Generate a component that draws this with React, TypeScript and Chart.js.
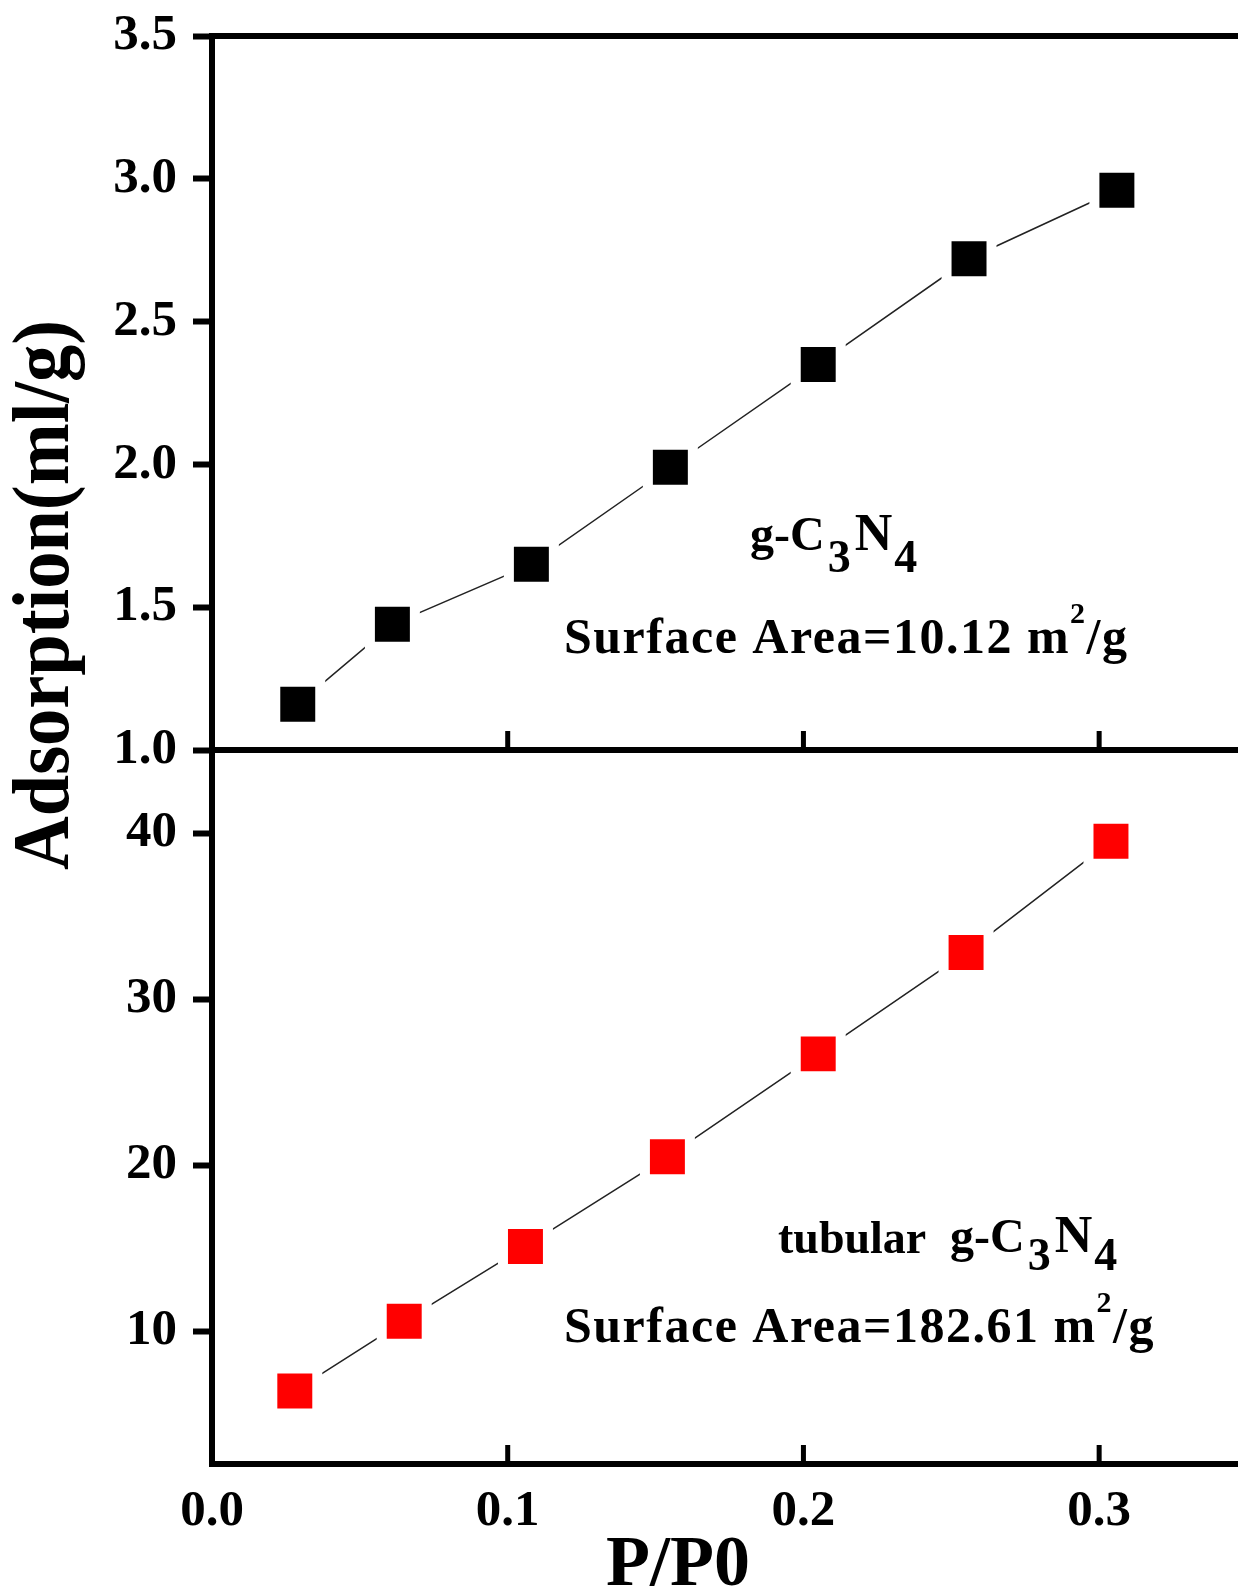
import React, { useEffect, useRef } from 'react';
import { Chart, registerables } from 'chart.js';

Chart.register(...registerables);

// ---- data ----
const pressureTop = [0.029, 0.061, 0.108, 0.155, 0.205, 0.256, 0.306];
const adsorptionTop = [1.16, 1.44, 1.65, 1.99, 2.35, 2.72, 2.96];
const pressureBottom = [0.028, 0.065, 0.106, 0.154, 0.205, 0.255, 0.304];
const adsorptionBottom = [6.4, 10.6, 15.1, 20.5, 26.7, 32.8, 39.5];
const xTickValues = [0.0, 0.1, 0.2, 0.3];
const yTicksTop = [1.0, 1.5, 2.0, 2.5, 3.0, 3.5];
const yTicksBottom = [10, 20, 30, 40];
const yTitle = 'Adsorption(ml/g)';
const xTitle = 'P/P0';
const topSampleName = ['g-C', '3', 'N', '4'];
const topArea = ['Surface Area=10.12 m', '2', '/g'];
const bottomPrefix = 'tubular';
const bottomSampleName = ['g-C', '3', 'N', '4'];
const bottomArea = ['Surface Area=182.61 m', '2', '/g'];

const FAMILY = '"Liberation Serif", "Times New Roman", serif';
const CANVAS_W = 1247;
const TOP_H = 900;
const BOTTOM_TOP = 700;
const BOTTOM_H = 891;

type Run = { t: string; s: number; dy?: number; gap?: number };

function drawRuns(ctx: CanvasRenderingContext2D, x: number, y: number, runs: Run[], spacing: number) {
  ctx.save();
  ctx.fillStyle = '#000';
  ctx.textAlign = 'left';
  ctx.textBaseline = 'alphabetic';
  (ctx as any).letterSpacing = spacing + 'px';
  let cx = x;
  for (const r of runs) {
    ctx.font = `bold ${r.s}px ${FAMILY}`;
    ctx.fillText(r.t, cx, y + (r.dy || 0));
    cx += ctx.measureText(r.t).width + (r.gap || 0);
  }
  ctx.restore();
}

function sampleRuns(names: string[], dy: number): Run[] {
  return [
    { t: names[0], s: 48, gap: 3 },
    { t: names[1], s: 46, dy, gap: 4 },
    { t: names[2], s: 52, gap: 2 },
    { t: names[3], s: 46, dy },
  ];
}

function inwardTicks(chart: any) {
  const ctx = chart.ctx;
  const { bottom } = chart.chartArea;
  const xs = chart.scales.x;
  ctx.save();
  ctx.fillStyle = '#000';
  for (const v of xTickValues) {
    if (v <= 0) continue;
    const px = xs.getPixelForValue(v);
    ctx.fillRect(px - 2.5, bottom - 19, 5, 19);
  }
  ctx.restore();
}

const tickFont = { family: FAMILY, size: 51, weight: 'bold' as const };

function yAxis(min: number, max: number, ticks: number[], fmt: (v: number) => string) {
  return {
    type: 'linear' as const,
    position: 'left' as const,
    min,
    max,
    afterBuildTicks: (scale: any) => {
      scale.ticks = ticks.map((v) => ({ value: v }));
    },
    afterFit: (scale: any) => {
      scale.width = 212;
      scale.paddingTop = 0;
      scale.paddingBottom = 0;
    },
    grid: {
      drawOnChartArea: false,
      drawTicks: true,
      tickLength: 19,
      tickWidth: 6,
      tickColor: '#000',
    },
    border: { display: true, width: 6, color: '#000' },
    ticks: {
      color: '#000',
      font: tickFont,
      padding: 16,
      callback: (v: any) => fmt(Number(v)),
    },
  };
}

function xAxis(showLabels: boolean, height: number) {
  return {
    type: 'linear' as const,
    position: 'bottom' as const,
    min: 0,
    max: 0.35,
    afterBuildTicks: (scale: any) => {
      scale.ticks = xTickValues.map((v) => ({ value: v }));
    },
    afterFit: (scale: any) => {
      scale.height = height;
      scale.paddingLeft = 0;
      scale.paddingRight = 0;
    },
    grid: { display: true, drawOnChartArea: false, drawTicks: false },
    border: { display: true, width: 6, color: '#000' },
    ticks: {
      display: showLabels,
      color: '#000',
      font: tickFont,
      padding: 17,
      maxRotation: 0,
      callback: (v: any) => Number(v).toFixed(1),
    },
  };
}

function dataset(xs: number[], ys: number[], color: string) {
  return {
    data: xs.map((x, i) => ({ x, y: ys[i] })),
    borderColor: '#222',
    borderWidth: 1.5,
    pointStyle: 'rect' as const,
    pointRadius: 31.8,
    pointHoverRadius: 31.8,
    pointBackgroundColor: color,
    pointBorderColor: '#fff',
    pointBorderWidth: 10,
    tension: 0,
    fill: false,
    clip: false as const,
  };
}

export default function App() {
  const topRef = useRef<HTMLCanvasElement | null>(null);
  const botRef = useRef<HTMLCanvasElement | null>(null);

  useEffect(() => {
    const topPlugin = {
      id: 'topDecor',
      afterDraw(chart: any) {
        const ctx = chart.ctx;
        const { left, right, top } = chart.chartArea;
        ctx.save();
        ctx.strokeStyle = '#000';
        ctx.lineWidth = 6;
        ctx.beginPath();
        ctx.moveTo(left - 3, top);
        ctx.lineTo(right, top);
        ctx.stroke();
        ctx.restore();
        inwardTicks(chart);
        // y title (slightly condensed serif, as in the source figure)
        ctx.save();
        ctx.fillStyle = '#000';
        ctx.font = `bold 80px ${FAMILY}`;
        ctx.textAlign = 'center';
        ctx.textBaseline = 'alphabetic';
        ctx.translate(68, 595);
        ctx.rotate(-Math.PI / 2);
        const w = ctx.measureText(yTitle).width;
        ctx.scale(550 / w, 1);
        ctx.fillText(yTitle, 0, 0);
        ctx.restore();
        // annotations
        drawRuns(ctx, 750, 550, sampleRuns(topSampleName, 22), 0);
        drawRuns(ctx, 564, 653, [
          { t: topArea[0], s: 50 },
          { t: topArea[1], s: 30, dy: -30 },
          { t: topArea[2], s: 50 },
        ], 1.5);
      },
    };
    const botPlugin = {
      id: 'botDecor',
      afterDraw(chart: any) {
        const ctx = chart.ctx;
        inwardTicks(chart);
        ctx.save();
        ctx.fillStyle = '#000';
        ctx.font = `bold 72px ${FAMILY}`;
        ctx.textAlign = 'left';
        ctx.textBaseline = 'alphabetic';
        ctx.fillText(xTitle, 606, 1585 - BOTTOM_TOP);
        ctx.restore();
        drawRuns(ctx, 778, 1253 - BOTTOM_TOP, [{ t: bottomPrefix, s: 46 }], 0);
        drawRuns(ctx, 950, 1252 - BOTTOM_TOP, sampleRuns(bottomSampleName, 18), 0);
        drawRuns(ctx, 564, 1342 - BOTTOM_TOP, [
          { t: bottomArea[0], s: 50 },
          { t: bottomArea[1], s: 30, dy: -30 },
          { t: bottomArea[2], s: 50 },
        ], 1.5);
      },
    };

    const common = {
      animation: false as const,
      responsive: false,
      maintainAspectRatio: false,
      plugins: { legend: { display: false }, tooltip: { enabled: false } },
      events: [] as any[],
    };

    const topChart = new Chart(topRef.current!, {
      type: 'line',
      data: { datasets: [dataset(pressureTop, adsorptionTop, '#000')] },
      options: {
        ...common,
        layout: { autoPadding: false, padding: { top: 36, left: 0, right: 0, bottom: 0 } },
        scales: {
          x: xAxis(false, TOP_H - 750),
          y: yAxis(1.0, 3.5, yTicksTop, (v) => v.toFixed(1)),
        },
      } as any,
      plugins: [topPlugin],
    });

    const botChart = new Chart(botRef.current!, {
      type: 'line',
      data: { datasets: [dataset(pressureBottom, adsorptionBottom, '#ff0000')] },
      options: {
        ...common,
        layout: { autoPadding: false, padding: { top: 750 - BOTTOM_TOP, left: 0, right: 0, bottom: 0 } },
        scales: {
          x: xAxis(true, BOTTOM_TOP + BOTTOM_H - 1464),
          y: yAxis(2, 45, yTicksBottom, (v) => String(Math.round(v))),
        },
      } as any,
      plugins: [botPlugin],
    });

    return () => {
      topChart.destroy();
      botChart.destroy();
    };
  }, []);

  return (
    <div
      style={{
        position: 'absolute',
        left: 0,
        top: 0,
        width: 1238,
        height: 1591,
        overflow: 'hidden',
        background: '#fff',
      }}
    >
      <canvas
        ref={topRef}
        width={CANVAS_W}
        height={TOP_H}
        style={{ position: 'absolute', left: 0, top: 0 }}
      />
      <canvas
        ref={botRef}
        width={CANVAS_W}
        height={BOTTOM_H}
        style={{ position: 'absolute', left: 0, top: BOTTOM_TOP }}
      />
    </div>
  );
}
